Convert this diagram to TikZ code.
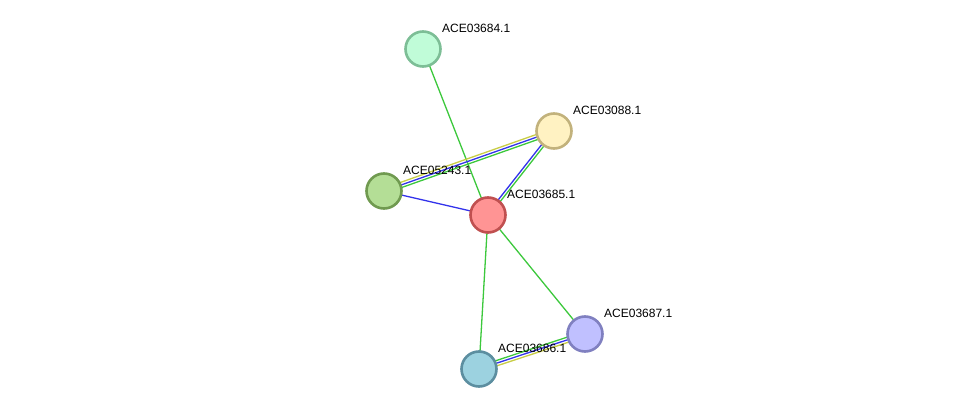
\documentclass[tikz,border=0pt]{standalone}
\usepackage{fontspec}
\setmainfont{Liberation Sans}
\usetikzlibrary{calc,backgrounds}
\definecolor{egreen}{RGB}{60,200,60}
\definecolor{eblue}{RGB}{50,50,235}
\definecolor{eyellow}{RGB}{200,205,70}
% node fills and borders
\definecolor{f03684}{RGB}{192,252,216}\definecolor{d03684}{RGB}{125,190,150}
\definecolor{f03088}{RGB}{255,242,194}\definecolor{d03088}{RGB}{194,178,124}
\definecolor{f05243}{RGB}{180,222,150}\definecolor{d05243}{RGB}{112,154,80}
\definecolor{f03685}{RGB}{255,148,148}\definecolor{d03685}{RGB}{192,80,80}
\definecolor{f03687}{RGB}{192,192,255}\definecolor{d03687}{RGB}{128,128,192}
\definecolor{f03686}{RGB}{156,210,224}\definecolor{d03686}{RGB}{92,142,160}
\begin{document}
\begin{tikzpicture}[x=1pt,y=-1pt]
\tikzstyle{prot}=[draw, circle, line width=2.6pt, minimum size=35pt, inner sep=0pt]
\tikzstyle{lbl}=[anchor=base west, inner sep=0pt, font=\fontsize{12}{14}\selectfont]
\tikzstyle{edge}=[line width=1.3pt]
\useasboundingbox (0,0) rectangle (975,415);
% proteins
\foreach \n/\x/\y in {03684/423/49,03088/554/131,05243/384/191,03685/488/215,03687/585/334,03686/479/369}{
  \node[prot, fill=f\n, draw=d\n] (ACE\n) at (\x,\y) {};
  \node[lbl] (ACE\n-l) at (\x+19,\y-17) {ACE\n.1};
}
\begin{scope}[on background layer]
% single edges
\foreach \i/\j/\c in {ACE03684/ACE03685/egreen,ACE05243/ACE03685/eblue,ACE03685/ACE03686/egreen,ACE03685/ACE03687/egreen}{
  \draw[edge, \c] (\i.center) -- (\j.center);}
% parallel edges
\foreach \i/\j/\o/\c in {ACE05243/ACE03088/2.6/eyellow,ACE05243/ACE03088/0/eblue,ACE05243/ACE03088/-2.6/egreen,
  ACE03685/ACE03088/1.3/eblue,ACE03685/ACE03088/-1.3/egreen,
  ACE03686/ACE03687/2.6/egreen,ACE03686/ACE03687/0/eblue,ACE03686/ACE03687/-2.6/eyellow}{
  \draw[edge, \c] ($(\i.center)!\o pt!90:(\j.center)$) -- ($(\j.center)!\o pt!-90:(\i.center)$);}
\end{scope}
\end{tikzpicture}
\end{document}
